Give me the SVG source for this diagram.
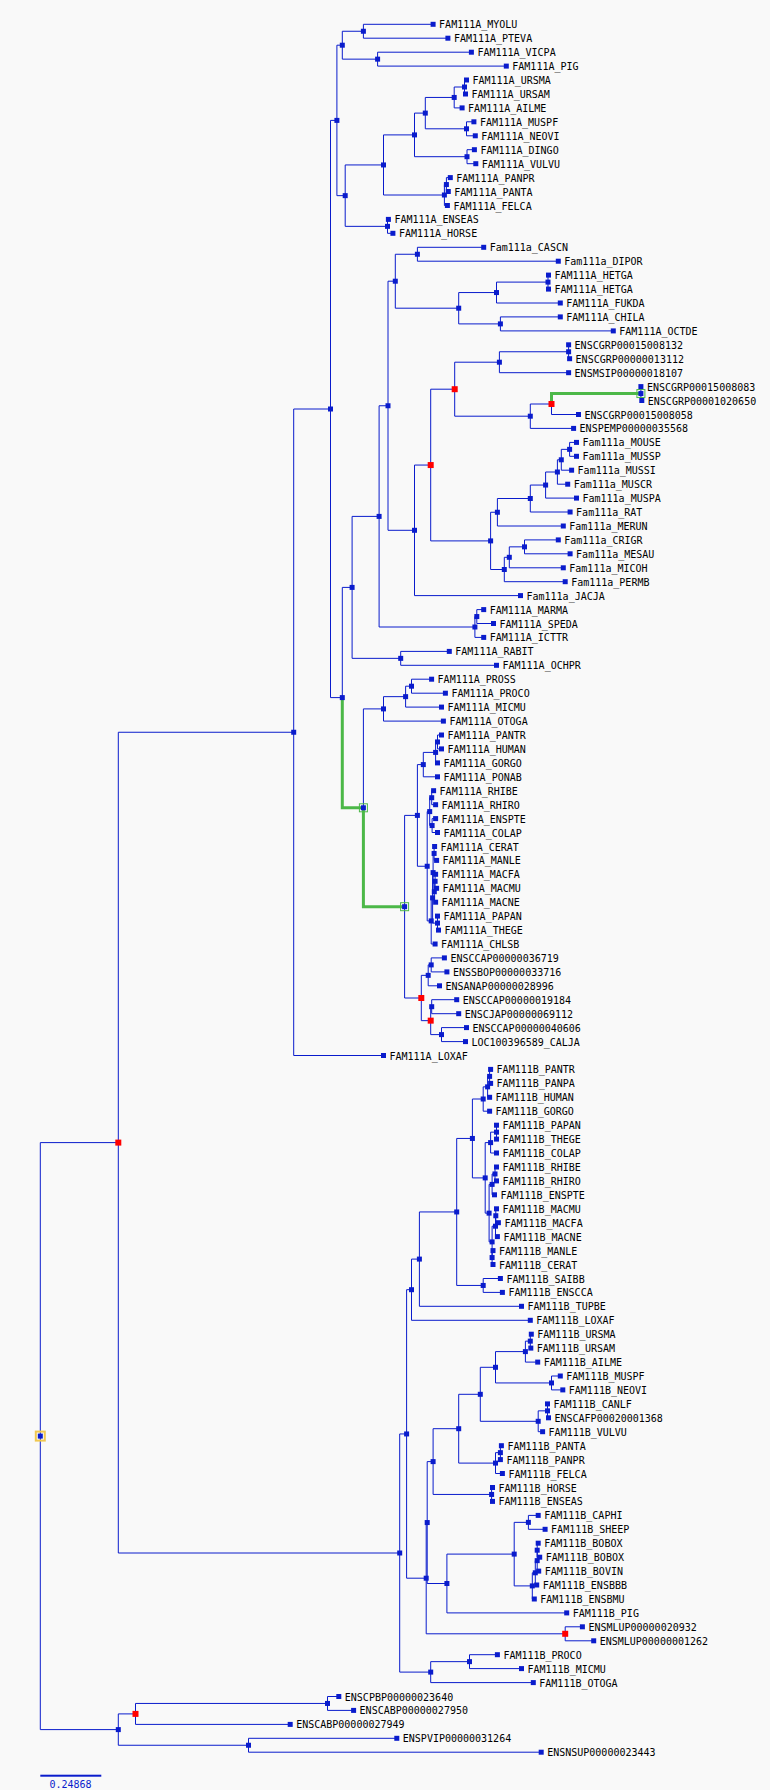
<svg xmlns="http://www.w3.org/2000/svg" xmlns:xlink="http://www.w3.org/1999/xlink" width="770" height="1790" viewBox="0 0 770 1790">
<style>
.e{fill:none;stroke:#0a1ccc;stroke-width:1}
.g{fill:none;stroke:#4cb848;stroke-width:3}
.t text{font-family:"DejaVu Sans Mono","Liberation Mono",monospace;font-size:10px;fill:#000}
.gb{fill:none;stroke:#4cb848;stroke-width:1}
.yb{fill:none;stroke:#f0c850;stroke-width:2}
</style>
<defs>
<rect id="s" x="-2.5" y="-2.5" width="5" height="5" fill="#0a1ccc"/>
<rect id="r" x="-3" y="-3" width="6" height="6" fill="#ff0000"/>
</defs>
<rect width="770" height="1790" fill="#f9f9f9"/>
<g id="connectors">
<path class="e" d="M118.3 1142.6 H40.3 V1729.6 H118.3
M293.7 732.25 H118.3 V1553 H399.7
M330.5 409 H293.7 V1055.5 H383.5
M336.9 120.4 H330.5 V697.6 H342.3
M342.3 45.2 H336.9 V195.65 H345.2
M363.4 31.25 H342.3 V59.15 H377.6
M433.1 24.3 H363.4 V38.2 H447.9
M471.4 52.2 H377.6 V66.1 H506.3
M383.5 164.95 H345.2 V226.35 H387.5
M388.4 219.4 H387.5 V233.3 H392.9
M414.5 134.9 H383.5 V195 H444.4
M446.4 184.55 H444.4 V205.5 H447.4
M450.3 177.6 H446.4 V191.5 H448.3
M425.3 113.1 H414.5 V156.7 H467
M474.4 149.7 H467 V163.7 H475.8
M454.2 97.45 H425.3 V128.8 H466.5
M473.9 121.8 H466.5 V135.8 H475.3
M464.5 87 H454.2 V107.9 H462.1
M466.5 80 H464.5 V94 H465.5
M352.1 587.4 H342.3 V807.8 H363.4
M379.1 516.4 H352.1 V658.35 H400.7
M449.3 651.4 H400.7 V665.3 H496.5
M388 405.75 H379.1 V627 H474.9
M476.8 616.55 H474.9 V637.4 H483.7
M483.7 609.6 H476.8 V623.5 H493.5
M395.3 281.2 H388 V530.3 H414.5
M417.4 254.25 H395.3 V308.2 H458.7
M483.7 247.3 H417.4 V261.2 H558.3
M496.5 292.55 H458.7 V323.9 H500.4
M548 282.1 H496.5 V303 H560.3
M548.5 275.1 H548 V289.1 H548.5
M560.3 316.9 H500.4 V330.9 H613.3
M430.7 465.05 H414.5 V595.6 H520.5
M454.7 389.2 H430.7 V540.9 H490.6
M499.4 362.2 H454.7 V416.2 H530.3
M568.6 351.75 H499.4 V372.7 H568.6
M568.6 344.8 V358.7 H569.6
M551.5 404 H530.3 V428.4 H573.6
M640.9 393.55 H551.5 V414.5 H578.5
M640.9 386.6 V400.5 H641.8
M497.4 512.25 H490.6 V569.5 H504.3
M530.3 498.5 H497.4 V526 H563.3
M545.6 485.05 H530.3 V512 H570.1
M557.4 472 H545.6 V498.1 H576.5
M561.3 459.8 H557.4 V484.2 H567.7
M569.6 449.35 H561.3 V470.2 H571.6
M576.5 442.4 H569.6 V456.3 H576.5
M509.3 557.3 H504.3 V581.7 H565.2
M524.5 546.85 H509.3 V567.8 H563.3
M558.3 539.9 H524.5 V553.8 H570.1
M383.5 708.9 H363.4 V906.7 H404.6
M405.6 696.65 H383.5 V721.1 H443.4
M411.5 686.2 H405.6 V707.1 H441.5
M431.6 679.2 H411.5 V693.2 H445.4
M417.4 815.4 H404.6 V998 H421.3
M423.3 764.6 H417.4 V866.25 H427.2
M435.6 752.4 H423.3 V776.8 H437.5
M437.5 741.95 H435.6 V762.9 H437.5
M441.5 735 H437.5 V748.9 H441.5
M429.7 811.6 H427.2 V920.9 H431.2
M431.7 797.7 H429.7 V825.55 H432.1
M433.6 790.7 H431.7 V804.7 H435.6
M435.6 818.6 H432.1 V832.5 H437.5
M432.6 897.85 H431.2 V944 H435.1
M433.1 872.6 H432.6 V923.1 H437.5
M434.1 853.45 H433.1 V891.75 H434.3
M434.6 846.5 H434.1 V860.4 H436.6
M435.1 881.3 H434.3 V902.2 H435.6
M435.6 874.3 H435.1 V888.3 H436.6
M437.5 916.1 V930.1 H438.5
M428.2 975.35 H421.3 V1020.65 H430.7
M431.2 964.9 H428.2 V985.8 H439.5
M444.4 957.9 H431.2 V971.9 H446.9
M431.7 1006.7 H430.7 V1034.6 H441.5
M456.7 999.7 H431.7 V1013.7 H458.7
M466.5 1027.6 H441.5 V1041.6 H465.5
M406.6 1433.95 H399.7 V1672.1 H430.7
M469.5 1661.65 H430.7 V1682.6 H533.3
M497.4 1654.7 H469.5 V1668.6 H521.5
M411.5 1289.7 H406.6 V1578.2 H426.2
M419.4 1259.1 H411.5 V1320.3 H530.3
M456.7 1211.95 H419.4 V1306.3 H521.5
M472.4 1138.45 H456.7 V1285.45 H483.2
M500.4 1278.5 H483.2 V1292.4 H502.4
M483.2 1099 H472.4 V1177.9 H485.2
M487.6 1086.85 H483.2 V1111.2 H489.6
M489.6 1076.4 H487.6 V1097.3 H489.6
M490.6 1069.4 H489.6 V1083.4 H490.6
M490.6 1142.6 H485.2 V1213.15 H489.1
M496.5 1132.15 H490.6 V1153 H496.5
M496.5 1125.2 V1139.1
M492.1 1184.4 H489.1 V1241.9 H492.1
M495 1173.95 H492.1 V1194.8 H494.5
M496.5 1167 H495 V1180.9 H496.5
M495.5 1226.2 H492.1 V1257.55
M495.8 1215.75 H495.5 V1236.6 H497.4
M496.5 1208.8 H495.8 V1222.7 H498.4
M493 1250.6 H492.1 V1264.5 H493
M427.2 1522.55 H426.2 V1633.8 H565.2
M582.4 1626.8 H565.2 V1640.8 H593.7
M433.1 1461.6 H427.2 V1583.5 H446.9
M514.2 1554.1 H446.9 V1612.9 H566.7
M528.4 1522.35 H514.2 V1585.9 H532.3
M538.2 1515.4 H528.4 V1529.3 H545.1
M535.3 1572.8 H532.3 V1599 H534.3
M537.2 1560.65 H535.3 V1585 H536.7
M537.2 1550.2 V1571.1 H538.7
M538.2 1543.2 H537.2 V1557.2 H539.7
M458.7 1428.7 H433.1 V1494.45 H491.6
M492.5 1487.5 H491.6 V1501.4 H492.5
M480.3 1394.3 H458.7 V1463.1 H495.5
M500.4 1452.65 H495.5 V1473.5 H502.4
M501.4 1445.7 H500.4 V1459.6
M495.5 1367.3 H480.3 V1421.3 H538.2
M547.5 1410.85 H538.2 V1431.7 H542.6
M547.5 1403.9 V1417.8 H548.5
M525.4 1351.6 H495.5 V1382.95 H551.5
M560.3 1376 H551.5 V1389.9 H562.8
M530.3 1341.15 H525.4 V1362.1 H537.7
M531.3 1334.2 H530.3 V1348.1 H530.8
M135.5 1713.9 H118.3 V1745.25 H248.5
M327.5 1703.45 H135.5 V1724.4 H290.2
M338.8 1696.5 H327.5 V1710.4 H353.6
M396.8 1738.3 H248.5 V1752.2 H541.2"/>
<path class="g" d="M342.3 697.6 V807.8 H363.4 M363.4 807.8 V906.7 H404.6 M551.5 404 V393.55 H640.9"/>
</g>
<g id="internal-nodes">
<g id="nR"><rect class="yb" x="35.8" y="1431.6" width="9" height="9"/><use href="#s" x="40.3" y="1436.1"/></g>
<g id="nN1"><use href="#r" x="118.3" y="1142.6"/></g>
<g id="nN2"><use href="#s" x="118.3" y="1729.6"/></g>
<g id="nT"><use href="#s" x="293.7" y="732.25"/></g>
<g id="nU"><use href="#s" x="330.5" y="409"/></g>
<g id="nL"><use href="#s" x="336.9" y="120.4"/></g>
<g id="nA2"><use href="#s" x="342.3" y="45.2"/></g>
<g id="nA1"><use href="#s" x="363.4" y="31.25"/></g>
<g id="nA3"><use href="#s" x="377.6" y="59.15"/></g>
<g id="nB"><use href="#s" x="345.2" y="195.65"/></g>
<g id="nC1"><use href="#s" x="383.5" y="164.95"/></g>
<g id="nC2"><use href="#s" x="387.5" y="226.35"/></g>
<g id="nD1"><use href="#s" x="414.5" y="134.9"/></g>
<g id="nD2"><use href="#s" x="444.4" y="195"/></g>
<g id="nD3"><use href="#s" x="446.4" y="184.55"/></g>
<g id="nE1"><use href="#s" x="425.3" y="113.1"/></g>
<g id="nE2"><use href="#s" x="467" y="156.7"/></g>
<g id="nF1"><use href="#s" x="454.2" y="97.45"/></g>
<g id="nF2"><use href="#s" x="466.5" y="128.8"/></g>
<g id="nF3"><use href="#s" x="464.5" y="87"/></g>
<g id="nG"><use href="#s" x="342.3" y="697.6"/></g>
<g id="nH1"><use href="#s" x="352.1" y="587.4"/></g>
<g id="nH2"><rect class="gb" x="359.4" y="803.8" width="8" height="8"/><use href="#s" x="363.4" y="807.8"/></g>
<g id="nI1"><use href="#s" x="379.1" y="516.4"/></g>
<g id="nI2"><use href="#s" x="400.7" y="658.35"/></g>
<g id="nJ1"><use href="#s" x="388" y="405.75"/></g>
<g id="nJ2"><use href="#s" x="474.9" y="627"/></g>
<g id="nJ3"><use href="#s" x="476.8" y="616.55"/></g>
<g id="nK1"><use href="#s" x="395.3" y="281.2"/></g>
<g id="nK2"><use href="#s" x="414.5" y="530.3"/></g>
<g id="nK3"><use href="#s" x="417.4" y="254.25"/></g>
<g id="nK4"><use href="#s" x="458.7" y="308.2"/></g>
<g id="nK5"><use href="#s" x="496.5" y="292.55"/></g>
<g id="nK6"><use href="#s" x="500.4" y="323.9"/></g>
<g id="nK7"><use href="#s" x="548" y="282.1"/></g>
<g id="nM1"><use href="#r" x="430.7" y="465.05"/></g>
<g id="nM2"><use href="#r" x="454.7" y="389.2"/></g>
<g id="nM3"><use href="#s" x="490.6" y="540.9"/></g>
<g id="nM4"><use href="#s" x="499.4" y="362.2"/></g>
<g id="nM5"><use href="#s" x="530.3" y="416.2"/></g>
<g id="nM6"><use href="#s" x="568.6" y="351.75"/></g>
<g id="nM7"><use href="#r" x="551.5" y="404"/></g>
<g id="nM8"><rect class="gb" x="636.9" y="389.55" width="8" height="8"/><use href="#s" x="640.9" y="393.55"/></g>
<g id="nP1"><use href="#s" x="497.4" y="512.25"/></g>
<g id="nP2"><use href="#s" x="504.3" y="569.5"/></g>
<g id="nP3"><use href="#s" x="530.3" y="498.5"/></g>
<g id="nP4"><use href="#s" x="545.6" y="485.05"/></g>
<g id="nP5"><use href="#s" x="557.4" y="472"/></g>
<g id="nP6"><use href="#s" x="561.3" y="459.8"/></g>
<g id="nP7"><use href="#s" x="569.6" y="449.35"/></g>
<g id="nP8"><use href="#s" x="509.3" y="557.3"/></g>
<g id="nP9"><use href="#s" x="524.5" y="546.85"/></g>
<g id="nQ1"><use href="#s" x="383.5" y="708.9"/></g>
<g id="nQ2"><rect class="gb" x="400.6" y="902.7" width="8" height="8"/><use href="#s" x="404.6" y="906.7"/></g>
<g id="nQ3"><use href="#s" x="405.6" y="696.65"/></g>
<g id="nQ4"><use href="#s" x="411.5" y="686.2"/></g>
<g id="nS1"><use href="#s" x="417.4" y="815.4"/></g>
<g id="nS2"><use href="#r" x="421.3" y="998"/></g>
<g id="nS3"><use href="#s" x="423.3" y="764.6"/></g>
<g id="nS4"><use href="#s" x="427.2" y="866.25"/></g>
<g id="nS5"><use href="#s" x="435.6" y="752.4"/></g>
<g id="nS6"><use href="#s" x="437.5" y="741.95"/></g>
<g id="nS7"><use href="#s" x="429.7" y="811.6"/></g>
<g id="nS8"><use href="#s" x="431.7" y="797.7"/></g>
<g id="nS9"><use href="#s" x="432.1" y="825.55"/></g>
<g id="nZa"><use href="#s" x="431.2" y="920.9"/></g>
<g id="nXa"><use href="#s" x="432.6" y="897.85"/></g>
<g id="nYa"><use href="#s" x="433.1" y="872.6"/></g>
<g id="nCM"><use href="#s" x="434.1" y="853.45"/></g>
<g id="nFMN"><use href="#s" x="434.3" y="891.75"/></g>
<g id="nFM"><use href="#s" x="435.1" y="881.3"/></g>
<g id="nPT"><use href="#s" x="437.5" y="923.1"/></g>
<g id="nV1"><use href="#s" x="428.2" y="975.35"/></g>
<g id="nV2"><use href="#r" x="430.7" y="1020.65"/></g>
<g id="nV3"><use href="#s" x="431.2" y="964.9"/></g>
<g id="nV4"><use href="#s" x="431.7" y="1006.7"/></g>
<g id="nV5"><use href="#s" x="441.5" y="1034.6"/></g>
<g id="nB0"><use href="#s" x="399.7" y="1553"/></g>
<g id="nW1"><use href="#s" x="406.6" y="1433.95"/></g>
<g id="nW2"><use href="#s" x="430.7" y="1672.1"/></g>
<g id="nW3"><use href="#s" x="469.5" y="1661.65"/></g>
<g id="nX1"><use href="#s" x="411.5" y="1289.7"/></g>
<g id="nX2"><use href="#s" x="426.2" y="1578.2"/></g>
<g id="nX3"><use href="#s" x="419.4" y="1259.1"/></g>
<g id="nX4"><use href="#s" x="456.7" y="1211.95"/></g>
<g id="nX5"><use href="#s" x="472.4" y="1138.45"/></g>
<g id="nX6"><use href="#s" x="483.2" y="1285.45"/></g>
<g id="nX7"><use href="#s" x="483.2" y="1099"/></g>
<g id="nX8"><use href="#s" x="485.2" y="1177.9"/></g>
<g id="nX9"><use href="#s" x="487.6" y="1086.85"/></g>
<g id="nX10"><use href="#s" x="489.6" y="1076.4"/></g>
<g id="nX11"><use href="#s" x="490.6" y="1142.6"/></g>
<g id="nX12"><use href="#s" x="489.1" y="1213.15"/></g>
<g id="nX13"><use href="#s" x="496.5" y="1132.15"/></g>
<g id="nX14"><use href="#s" x="492.1" y="1184.4"/></g>
<g id="nX15"><use href="#s" x="492.1" y="1241.9"/></g>
<g id="nX16"><use href="#s" x="495" y="1173.95"/></g>
<g id="nX17"><use href="#s" x="495.5" y="1226.2"/></g>
<g id="nX18"><use href="#s" x="492.1" y="1257.55"/></g>
<g id="nX19"><use href="#s" x="495.8" y="1215.75"/></g>
<g id="nY1"><use href="#s" x="427.2" y="1522.55"/></g>
<g id="nY2"><use href="#r" x="565.2" y="1633.8"/></g>
<g id="nY3"><use href="#s" x="433.1" y="1461.6"/></g>
<g id="nY4"><use href="#s" x="446.9" y="1583.5"/></g>
<g id="nY5"><use href="#s" x="514.2" y="1554.1"/></g>
<g id="nY6"><use href="#s" x="528.4" y="1522.35"/></g>
<g id="nY7"><use href="#s" x="532.3" y="1585.9"/></g>
<g id="nY8"><use href="#s" x="535.3" y="1572.8"/></g>
<g id="nY9"><use href="#s" x="537.2" y="1560.65"/></g>
<g id="nY10"><use href="#s" x="537.2" y="1550.2"/></g>
<g id="nZ1"><use href="#s" x="458.7" y="1428.7"/></g>
<g id="nZ2"><use href="#s" x="491.6" y="1494.45"/></g>
<g id="nZ3"><use href="#s" x="480.3" y="1394.3"/></g>
<g id="nZ4"><use href="#s" x="495.5" y="1463.1"/></g>
<g id="nZ5"><use href="#s" x="500.4" y="1452.65"/></g>
<g id="nZ6"><use href="#s" x="495.5" y="1367.3"/></g>
<g id="nZ7"><use href="#s" x="538.2" y="1421.3"/></g>
<g id="nZ8"><use href="#s" x="547.5" y="1410.85"/></g>
<g id="nZ9"><use href="#s" x="525.4" y="1351.6"/></g>
<g id="nZ10"><use href="#s" x="551.5" y="1382.95"/></g>
<g id="nZ11"><use href="#s" x="530.3" y="1341.15"/></g>
<g id="nO1"><use href="#r" x="135.5" y="1713.9"/></g>
<g id="nO2"><use href="#s" x="248.5" y="1745.25"/></g>
<g id="nO3"><use href="#s" x="327.5" y="1703.45"/></g>
</g>
<g id="leaves" class="t">
<g id="leaf0"><use href="#s" x="433.1" y="24.3"/><text x="439.1" y="28.3">FAM111A_MYOLU</text></g>
<g id="leaf1"><use href="#s" x="447.9" y="38.2"/><text x="453.9" y="42.2">FAM111A_PTEVA</text></g>
<g id="leaf2"><use href="#s" x="471.4" y="52.2"/><text x="477.4" y="56.2">FAM111A_VICPA</text></g>
<g id="leaf3"><use href="#s" x="506.3" y="66.1"/><text x="512.3" y="70.1">FAM111A_PIG</text></g>
<g id="leaf4"><use href="#s" x="466.5" y="80"/><text x="472.5" y="84">FAM111A_URSMA</text></g>
<g id="leaf5"><use href="#s" x="465.5" y="94"/><text x="471.5" y="98">FAM111A_URSAM</text></g>
<g id="leaf6"><use href="#s" x="462.1" y="107.9"/><text x="468.1" y="111.9">FAM111A_AILME</text></g>
<g id="leaf7"><use href="#s" x="473.9" y="121.8"/><text x="479.9" y="125.8">FAM111A_MUSPF</text></g>
<g id="leaf8"><use href="#s" x="475.3" y="135.8"/><text x="481.3" y="139.8">FAM111A_NEOVI</text></g>
<g id="leaf9"><use href="#s" x="474.4" y="149.7"/><text x="480.4" y="153.7">FAM111A_DINGO</text></g>
<g id="leaf10"><use href="#s" x="475.8" y="163.7"/><text x="481.8" y="167.7">FAM111A_VULVU</text></g>
<g id="leaf11"><use href="#s" x="450.3" y="177.6"/><text x="456.3" y="181.6">FAM111A_PANPR</text></g>
<g id="leaf12"><use href="#s" x="448.3" y="191.5"/><text x="454.3" y="195.5">FAM111A_PANTA</text></g>
<g id="leaf13"><use href="#s" x="447.4" y="205.5"/><text x="453.4" y="209.5">FAM111A_FELCA</text></g>
<g id="leaf14"><use href="#s" x="388.4" y="219.4"/><text x="394.4" y="223.4">FAM111A_ENSEAS</text></g>
<g id="leaf15"><use href="#s" x="392.9" y="233.3"/><text x="398.9" y="237.3">FAM111A_HORSE</text></g>
<g id="leaf16"><use href="#s" x="483.7" y="247.3"/><text x="489.7" y="251.3">Fam111a_CASCN</text></g>
<g id="leaf17"><use href="#s" x="558.3" y="261.2"/><text x="564.3" y="265.2">Fam111a_DIPOR</text></g>
<g id="leaf18"><use href="#s" x="548.5" y="275.1"/><text x="554.5" y="279.1">FAM111A_HETGA</text></g>
<g id="leaf19"><use href="#s" x="548.5" y="289.1"/><text x="554.5" y="293.1">FAM111A_HETGA</text></g>
<g id="leaf20"><use href="#s" x="560.3" y="303"/><text x="566.3" y="307">FAM111A_FUKDA</text></g>
<g id="leaf21"><use href="#s" x="560.3" y="316.9"/><text x="566.3" y="320.9">FAM111A_CHILA</text></g>
<g id="leaf22"><use href="#s" x="613.3" y="330.9"/><text x="619.3" y="334.9">FAM111A_OCTDE</text></g>
<g id="leaf23"><use href="#s" x="568.6" y="344.8"/><text x="574.6" y="348.8">ENSCGRP00015008132</text></g>
<g id="leaf24"><use href="#s" x="569.6" y="358.7"/><text x="575.6" y="362.7">ENSCGRP00000013112</text></g>
<g id="leaf25"><use href="#s" x="568.6" y="372.7"/><text x="574.6" y="376.7">ENSMSIP00000018107</text></g>
<g id="leaf26"><use href="#s" x="640.9" y="386.6"/><text x="646.9" y="390.6">ENSCGRP00015008083</text></g>
<g id="leaf27"><use href="#s" x="641.8" y="400.5"/><text x="647.8" y="404.5">ENSCGRP00001020650</text></g>
<g id="leaf28"><use href="#s" x="578.5" y="414.5"/><text x="584.5" y="418.5">ENSCGRP00015008058</text></g>
<g id="leaf29"><use href="#s" x="573.6" y="428.4"/><text x="579.6" y="432.4">ENSPEMP00000035568</text></g>
<g id="leaf30"><use href="#s" x="576.5" y="442.4"/><text x="582.5" y="446.4">Fam111a_MOUSE</text></g>
<g id="leaf31"><use href="#s" x="576.5" y="456.3"/><text x="582.5" y="460.3">Fam111a_MUSSP</text></g>
<g id="leaf32"><use href="#s" x="571.6" y="470.2"/><text x="577.6" y="474.2">Fam111a_MUSSI</text></g>
<g id="leaf33"><use href="#s" x="567.7" y="484.2"/><text x="573.7" y="488.2">Fam111a_MUSCR</text></g>
<g id="leaf34"><use href="#s" x="576.5" y="498.1"/><text x="582.5" y="502.1">Fam111a_MUSPA</text></g>
<g id="leaf35"><use href="#s" x="570.1" y="512"/><text x="576.1" y="516">Fam111a_RAT</text></g>
<g id="leaf36"><use href="#s" x="563.3" y="526"/><text x="569.3" y="530">Fam111a_MERUN</text></g>
<g id="leaf37"><use href="#s" x="558.3" y="539.9"/><text x="564.3" y="543.9">Fam111a_CRIGR</text></g>
<g id="leaf38"><use href="#s" x="570.1" y="553.8"/><text x="576.1" y="557.8">Fam111a_MESAU</text></g>
<g id="leaf39"><use href="#s" x="563.3" y="567.8"/><text x="569.3" y="571.8">Fam111a_MICOH</text></g>
<g id="leaf40"><use href="#s" x="565.2" y="581.7"/><text x="571.2" y="585.7">Fam111a_PERMB</text></g>
<g id="leaf41"><use href="#s" x="520.5" y="595.6"/><text x="526.5" y="599.6">Fam111a_JACJA</text></g>
<g id="leaf42"><use href="#s" x="483.7" y="609.6"/><text x="489.7" y="613.6">FAM111A_MARMA</text></g>
<g id="leaf43"><use href="#s" x="493.5" y="623.5"/><text x="499.5" y="627.5">FAM111A_SPEDA</text></g>
<g id="leaf44"><use href="#s" x="483.7" y="637.4"/><text x="489.7" y="641.4">FAM111A_ICTTR</text></g>
<g id="leaf45"><use href="#s" x="449.3" y="651.4"/><text x="455.3" y="655.4">FAM111A_RABIT</text></g>
<g id="leaf46"><use href="#s" x="496.5" y="665.3"/><text x="502.5" y="669.3">FAM111A_OCHPR</text></g>
<g id="leaf47"><use href="#s" x="431.6" y="679.2"/><text x="437.6" y="683.2">FAM111A_PROSS</text></g>
<g id="leaf48"><use href="#s" x="445.4" y="693.2"/><text x="451.4" y="697.2">FAM111A_PROCO</text></g>
<g id="leaf49"><use href="#s" x="441.5" y="707.1"/><text x="447.5" y="711.1">FAM111A_MICMU</text></g>
<g id="leaf50"><use href="#s" x="443.4" y="721.1"/><text x="449.4" y="725.1">FAM111A_OTOGA</text></g>
<g id="leaf51"><use href="#s" x="441.5" y="735"/><text x="447.5" y="739">FAM111A_PANTR</text></g>
<g id="leaf52"><use href="#s" x="441.5" y="748.9"/><text x="447.5" y="752.9">FAM111A_HUMAN</text></g>
<g id="leaf53"><use href="#s" x="437.5" y="762.9"/><text x="443.5" y="766.9">FAM111A_GORGO</text></g>
<g id="leaf54"><use href="#s" x="437.5" y="776.8"/><text x="443.5" y="780.8">FAM111A_PONAB</text></g>
<g id="leaf55"><use href="#s" x="433.6" y="790.7"/><text x="439.6" y="794.7">FAM111A_RHIBE</text></g>
<g id="leaf56"><use href="#s" x="435.6" y="804.7"/><text x="441.6" y="808.7">FAM111A_RHIRO</text></g>
<g id="leaf57"><use href="#s" x="435.6" y="818.6"/><text x="441.6" y="822.6">FAM111A_ENSPTE</text></g>
<g id="leaf58"><use href="#s" x="437.5" y="832.5"/><text x="443.5" y="836.5">FAM111A_COLAP</text></g>
<g id="leaf59"><use href="#s" x="434.6" y="846.5"/><text x="440.6" y="850.5">FAM111A_CERAT</text></g>
<g id="leaf60"><use href="#s" x="436.6" y="860.4"/><text x="442.6" y="864.4">FAM111A_MANLE</text></g>
<g id="leaf61"><use href="#s" x="435.6" y="874.3"/><text x="441.6" y="878.3">FAM111A_MACFA</text></g>
<g id="leaf62"><use href="#s" x="436.6" y="888.3"/><text x="442.6" y="892.3">FAM111A_MACMU</text></g>
<g id="leaf63"><use href="#s" x="435.6" y="902.2"/><text x="441.6" y="906.2">FAM111A_MACNE</text></g>
<g id="leaf64"><use href="#s" x="437.5" y="916.1"/><text x="443.5" y="920.1">FAM111A_PAPAN</text></g>
<g id="leaf65"><use href="#s" x="438.5" y="930.1"/><text x="444.5" y="934.1">FAM111A_THEGE</text></g>
<g id="leaf66"><use href="#s" x="435.1" y="944"/><text x="441.1" y="948">FAM111A_CHLSB</text></g>
<g id="leaf67"><use href="#s" x="444.4" y="957.9"/><text x="450.4" y="961.9">ENSCCAP00000036719</text></g>
<g id="leaf68"><use href="#s" x="446.9" y="971.9"/><text x="452.9" y="975.9">ENSSBOP00000033716</text></g>
<g id="leaf69"><use href="#s" x="439.5" y="985.8"/><text x="445.5" y="989.8">ENSANAP00000028996</text></g>
<g id="leaf70"><use href="#s" x="456.7" y="999.7"/><text x="462.7" y="1003.7">ENSCCAP00000019184</text></g>
<g id="leaf71"><use href="#s" x="458.7" y="1013.7"/><text x="464.7" y="1017.7">ENSCJAP00000069112</text></g>
<g id="leaf72"><use href="#s" x="466.5" y="1027.6"/><text x="472.5" y="1031.6">ENSCCAP00000040606</text></g>
<g id="leaf73"><use href="#s" x="465.5" y="1041.6"/><text x="471.5" y="1045.6">LOC100396589_CALJA</text></g>
<g id="leaf74"><use href="#s" x="383.5" y="1055.5"/><text x="389.5" y="1059.5">FAM111A_LOXAF</text></g>
<g id="leaf75"><use href="#s" x="490.6" y="1069.4"/><text x="496.6" y="1073.4">FAM111B_PANTR</text></g>
<g id="leaf76"><use href="#s" x="490.6" y="1083.4"/><text x="496.6" y="1087.4">FAM111B_PANPA</text></g>
<g id="leaf77"><use href="#s" x="489.6" y="1097.3"/><text x="495.6" y="1101.3">FAM111B_HUMAN</text></g>
<g id="leaf78"><use href="#s" x="489.6" y="1111.2"/><text x="495.6" y="1115.2">FAM111B_GORGO</text></g>
<g id="leaf79"><use href="#s" x="496.5" y="1125.2"/><text x="502.5" y="1129.2">FAM111B_PAPAN</text></g>
<g id="leaf80"><use href="#s" x="496.5" y="1139.1"/><text x="502.5" y="1143.1">FAM111B_THEGE</text></g>
<g id="leaf81"><use href="#s" x="496.5" y="1153"/><text x="502.5" y="1157">FAM111B_COLAP</text></g>
<g id="leaf82"><use href="#s" x="496.5" y="1167"/><text x="502.5" y="1171">FAM111B_RHIBE</text></g>
<g id="leaf83"><use href="#s" x="496.5" y="1180.9"/><text x="502.5" y="1184.9">FAM111B_RHIRO</text></g>
<g id="leaf84"><use href="#s" x="494.5" y="1194.8"/><text x="500.5" y="1198.8">FAM111B_ENSPTE</text></g>
<g id="leaf85"><use href="#s" x="496.5" y="1208.8"/><text x="502.5" y="1212.8">FAM111B_MACMU</text></g>
<g id="leaf86"><use href="#s" x="498.4" y="1222.7"/><text x="504.4" y="1226.7">FAM111B_MACFA</text></g>
<g id="leaf87"><use href="#s" x="497.4" y="1236.6"/><text x="503.4" y="1240.6">FAM111B_MACNE</text></g>
<g id="leaf88"><use href="#s" x="493" y="1250.6"/><text x="499" y="1254.6">FAM111B_MANLE</text></g>
<g id="leaf89"><use href="#s" x="493" y="1264.5"/><text x="499" y="1268.5">FAM111B_CERAT</text></g>
<g id="leaf90"><use href="#s" x="500.4" y="1278.5"/><text x="506.4" y="1282.5">FAM111B_SAIBB</text></g>
<g id="leaf91"><use href="#s" x="502.4" y="1292.4"/><text x="508.4" y="1296.4">FAM111B_ENSCCA</text></g>
<g id="leaf92"><use href="#s" x="521.5" y="1306.3"/><text x="527.5" y="1310.3">FAM111B_TUPBE</text></g>
<g id="leaf93"><use href="#s" x="530.3" y="1320.3"/><text x="536.3" y="1324.3">FAM111B_LOXAF</text></g>
<g id="leaf94"><use href="#s" x="531.3" y="1334.2"/><text x="537.3" y="1338.2">FAM111B_URSMA</text></g>
<g id="leaf95"><use href="#s" x="530.8" y="1348.1"/><text x="536.8" y="1352.1">FAM111B_URSAM</text></g>
<g id="leaf96"><use href="#s" x="537.7" y="1362.1"/><text x="543.7" y="1366.1">FAM111B_AILME</text></g>
<g id="leaf97"><use href="#s" x="560.3" y="1376"/><text x="566.3" y="1380">FAM111B_MUSPF</text></g>
<g id="leaf98"><use href="#s" x="562.8" y="1389.9"/><text x="568.8" y="1393.9">FAM111B_NEOVI</text></g>
<g id="leaf99"><use href="#s" x="547.5" y="1403.9"/><text x="553.5" y="1407.9">FAM111B_CANLF</text></g>
<g id="leaf100"><use href="#s" x="548.5" y="1417.8"/><text x="554.5" y="1421.8">ENSCAFP00020001368</text></g>
<g id="leaf101"><use href="#s" x="542.6" y="1431.7"/><text x="548.6" y="1435.7">FAM111B_VULVU</text></g>
<g id="leaf102"><use href="#s" x="501.4" y="1445.7"/><text x="507.4" y="1449.7">FAM111B_PANTA</text></g>
<g id="leaf103"><use href="#s" x="500.4" y="1459.6"/><text x="506.4" y="1463.6">FAM111B_PANPR</text></g>
<g id="leaf104"><use href="#s" x="502.4" y="1473.5"/><text x="508.4" y="1477.5">FAM111B_FELCA</text></g>
<g id="leaf105"><use href="#s" x="492.5" y="1487.5"/><text x="498.5" y="1491.5">FAM111B_HORSE</text></g>
<g id="leaf106"><use href="#s" x="492.5" y="1501.4"/><text x="498.5" y="1505.4">FAM111B_ENSEAS</text></g>
<g id="leaf107"><use href="#s" x="538.2" y="1515.4"/><text x="544.2" y="1519.4">FAM111B_CAPHI</text></g>
<g id="leaf108"><use href="#s" x="545.1" y="1529.3"/><text x="551.1" y="1533.3">FAM111B_SHEEP</text></g>
<g id="leaf109"><use href="#s" x="538.2" y="1543.2"/><text x="544.2" y="1547.2">FAM111B_BOBOX</text></g>
<g id="leaf110"><use href="#s" x="539.7" y="1557.2"/><text x="545.7" y="1561.2">FAM111B_BOBOX</text></g>
<g id="leaf111"><use href="#s" x="538.7" y="1571.1"/><text x="544.7" y="1575.1">FAM111B_BOVIN</text></g>
<g id="leaf112"><use href="#s" x="536.7" y="1585"/><text x="542.7" y="1589">FAM111B_ENSBBB</text></g>
<g id="leaf113"><use href="#s" x="534.3" y="1599"/><text x="540.3" y="1603">FAM111B_ENSBMU</text></g>
<g id="leaf114"><use href="#s" x="566.7" y="1612.9"/><text x="572.7" y="1616.9">FAM111B_PIG</text></g>
<g id="leaf115"><use href="#s" x="582.4" y="1626.8"/><text x="588.4" y="1630.8">ENSMLUP00000020932</text></g>
<g id="leaf116"><use href="#s" x="593.7" y="1640.8"/><text x="599.7" y="1644.8">ENSMLUP00000001262</text></g>
<g id="leaf117"><use href="#s" x="497.4" y="1654.7"/><text x="503.4" y="1658.7">FAM111B_PROCO</text></g>
<g id="leaf118"><use href="#s" x="521.5" y="1668.6"/><text x="527.5" y="1672.6">FAM111B_MICMU</text></g>
<g id="leaf119"><use href="#s" x="533.3" y="1682.6"/><text x="539.3" y="1686.6">FAM111B_OTOGA</text></g>
<g id="leaf120"><use href="#s" x="338.8" y="1696.5"/><text x="344.8" y="1700.5">ENSCPBP00000023640</text></g>
<g id="leaf121"><use href="#s" x="353.6" y="1710.4"/><text x="359.6" y="1714.4">ENSCABP00000027950</text></g>
<g id="leaf122"><use href="#s" x="290.2" y="1724.4"/><text x="296.2" y="1728.4">ENSCABP00000027949</text></g>
<g id="leaf123"><use href="#s" x="396.8" y="1738.3"/><text x="402.8" y="1742.3">ENSPVIP00000031264</text></g>
<g id="leaf124"><use href="#s" x="541.2" y="1752.2"/><text x="547.2" y="1756.2">ENSNSUP00000023443</text></g>
</g>
<g id="scale-bar">
<rect x="40.3" y="1774.7" width="61" height="2" fill="#0a1ccc"/>
<text x="49.5" y="1788" font-family="DejaVu Sans Mono, Liberation Mono, monospace" font-size="10" fill="#0a1ccc">0.24868</text>
</g>
</svg>
